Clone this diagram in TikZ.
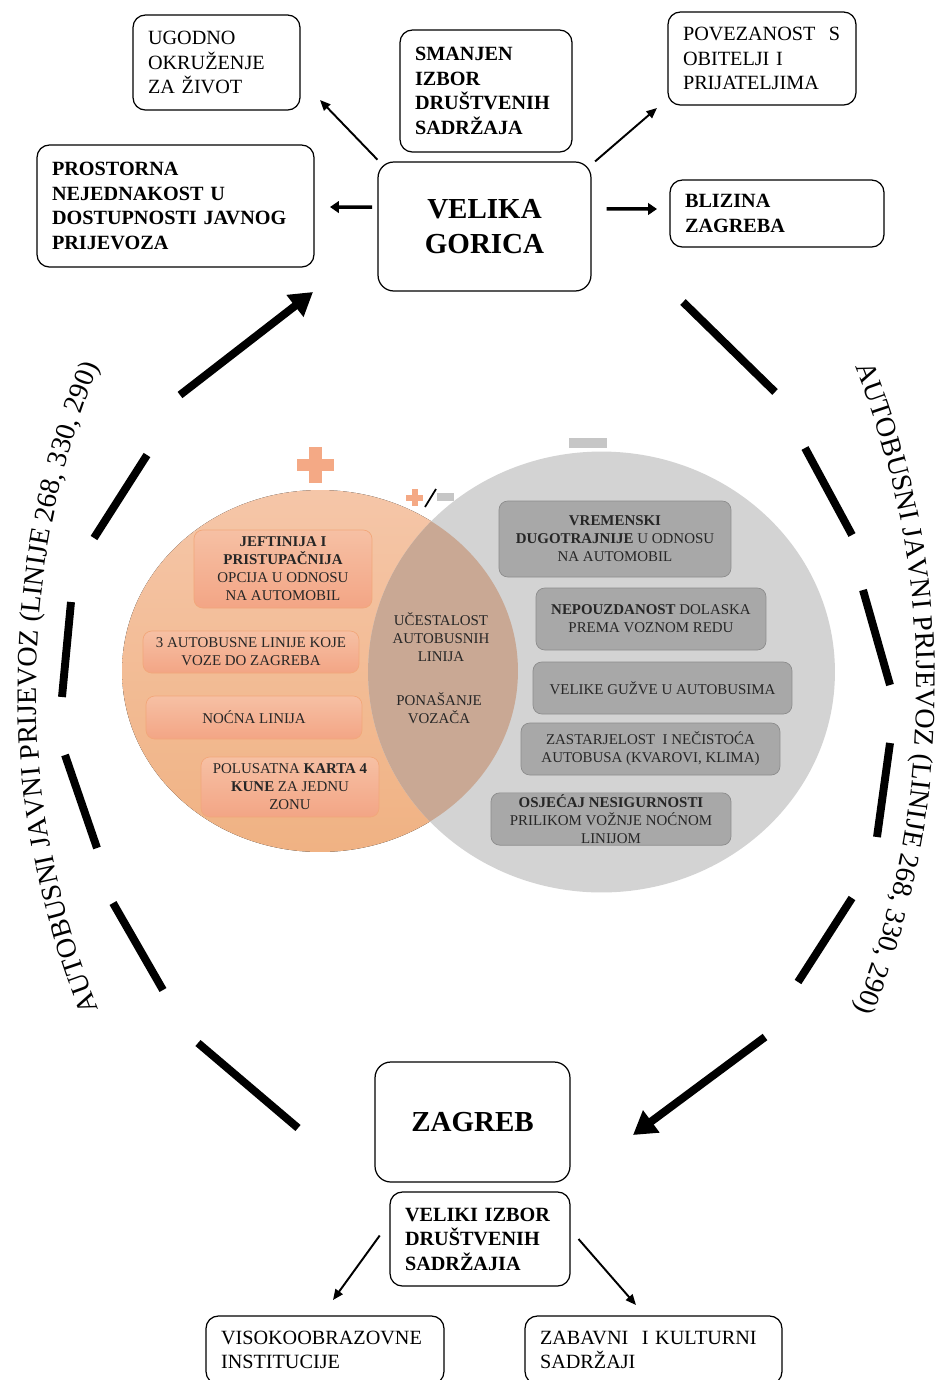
\documentclass[tikz,border=0pt]{standalone}
\usepackage{fontspec}
\setmainfont{Liberation Serif}
\usepackage{tikz}
\usetikzlibrary{arrows.meta,decorations.text}

\definecolor{orangetop}{HTML}{F5C6A8}
\definecolor{orangebot}{HTML}{F0B283}
\definecolor{overlapfill}{HTML}{C9A894}
\definecolor{grayfill}{HTML}{D3D3D3}
\definecolor{boxtop}{HTML}{F6C0A4}
\definecolor{boxbot}{HTML}{F3A585}
\definecolor{orangeedge}{HTML}{F2A77A}
\definecolor{grayboxfill}{HTML}{A8A8A8}
\definecolor{grayedge}{HTML}{8C8C8C}
\definecolor{plusorange}{HTML}{F4A985}
\definecolor{minusgray}{HTML}{C6C6C6}
\definecolor{textdark}{HTML}{262626}

\begin{document}
\begin{tikzpicture}[
    x=0.02cm, y=-0.02cm,
    topbox/.style={
        draw,
        line width=0.7pt,
        rounded corners=7pt,
        align=left,
        inner xsep=0.3cm,
        font=\fontsize{11.5}{14}\selectfont
    },
    bigbox/.style={
        draw,
        line width=0.7pt,
        rounded corners=9pt,
        align=center,
        font=\fontsize{16.5}{20.4}\selectfont\bfseries
    },
    plusbox/.style={
        draw=orangeedge,
        top color=boxtop,
        bottom color=boxbot,
        rounded corners=5pt,
        align=center,
        inner sep=1pt,
        text=textdark,
        font=\fontsize{8.5}{10.2}\selectfont
    },
    minusbox/.style={
        draw=grayedge,
        fill=grayboxfill,
        rounded corners=5pt,
        align=center,
        inner sep=1pt,
        text=textdark,
        font=\fontsize{8.5}{10.2}\selectfont
    },
    thinarrow/.style={
        -{Triangle[length=6pt,width=5pt]},
        line width=1.1pt
    },
    midarrow/.style={
        -{Triangle[length=5pt,width=6.5pt]},
        line width=2pt
    },
    ringseg/.style={line width=4.5pt},
    ringarrow/.style={
        line width=4.5pt,
        -{Triangle[length=13pt,width=15pt]}
    }
]
\useasboundingbox (0,0) rectangle (945,1380);
\clip (0,0) rectangle (945,1380);

% Venn circles
\fill[top color=orangetop, bottom color=orangebot] (320,671) ellipse [x radius=3.96cm, y radius=3.62cm];
\fill[grayfill] (601.5,672) ellipse [x radius=4.67cm, y radius=4.41cm];
\begin{scope}
    \clip (320,671) ellipse [x radius=3.96cm, y radius=3.62cm];
    \fill[overlapfill] (601.5,672) ellipse [x radius=4.67cm, y radius=4.41cm];
\end{scope}

% plus / minus marks
\fill[plusorange] (297,458.75) rectangle (334,471.25);
\fill[plusorange] (309.25,447) rectangle (321.75,483);
\fill[plusorange] (406,494.5) rectangle (423,500.5);
\fill[plusorange] (411.5,489) rectangle (417.5,506);
\draw[line width=1pt] (425,507) -- (436,489);
\fill[minusgray] (437,493) rectangle (454,501);
\fill[minusgray] (569,438) rectangle (607,448);

% positive side
\node[plusbox, minimum width=3.56cm, minimum height=1.56cm] (jeftinija) at (283,569) {
    \textbf{JEFTINIJA I}\\
    \textbf{PRISTUPAČNIJA}\\
    OPCIJA U ODNOSU\\
    NA AUTOMOBIL};
\node[plusbox, minimum width=4.32cm, minimum height=0.84cm] (trilinije) at (251,652) {
    3 AUTOBUSNE LINIJE KOJE\\
    VOZE DO ZAGREBA};
\node[plusbox, minimum width=4.32cm, minimum height=0.86cm] (nocna) at (254,717.5) {NOĆNA LINIJA};
\node[plusbox, minimum width=3.56cm, minimum height=1.2cm] (karta) at (290,787) {
    POLUSATNA \textbf{KARTA 4}\\
    \textbf{KUNE} ZA JEDNU\\
    ZONU};

% both sides
\node[align=center, text=textdark, font=\fontsize{8.5}{10.2}\selectfont] (ucestalost) at (441,637) {
    UČESTALOST\\
    AUTOBUSNIH\\
    LINIJA};
\node[align=center, text=textdark, font=\fontsize{8.5}{10.2}\selectfont] (ponasanje) at (439,708) {
    PONAŠANJE\\
    VOZAČA};

% negative side
\node[minusbox, minimum width=4.64cm, minimum height=1.52cm] (vremenski) at (615,539) {
    \textbf{VREMENSKI}\\
    \textbf{DUGOTRAJNIJE} U ODNOSU\\
    NA AUTOMOBIL};
\node[minusbox, minimum width=4.6cm, minimum height=1.24cm] (nepouzdanost) at (651,619) {
    \textbf{NEPOUZDANOST} DOLASKA\\
    PREMA VOZNOM REDU};
\node[minusbox, minimum width=5.18cm, minimum height=1.04cm] (guzve) at (662.5,688) {VELIKE GUŽVE U AUTOBUSIMA};
\node[minusbox, minimum width=5.18cm, minimum height=1.04cm] (zastarjelost) at (650.5,749) {
    ZASTARJELOST \ I NEČISTOĆA\\
    AUTOBUSA (KVAROVI, KLIMA)};
\node[minusbox, minimum width=4.8cm, minimum height=1.04cm] (nesigurnost) at (611,819) {
    \textbf{OSJEĆAJ NESIGURNOSTI}\\
    PRILIKOM VOŽNJE NOĆNOM\\
    LINIJOM};

% Velika Gorica
\node[bigbox, minimum width=4.26cm, minimum height=2.58cm] (velika) at (484.5,226.5) {VELIKA\\GORICA};
\node[topbox, text width=2.74cm, minimum height=1.9cm] (ugodno) at (216.5,62.5) {
    UGODNO\\
    OKRUŽENJE\\
    ZA ŽIVOT};
\node[topbox, text width=2.84cm, minimum height=2.44cm] (smanjen) at (486,91) {\bfseries
    SMANJEN\\
    IZBOR\\
    DRUŠTVENIH\\
    SADRŽAJA};
\node[topbox, text width=3.16cm, minimum height=1.86cm] (povezanost) at (762,58.5) {
    POVEZANOST \ S\\
    OBITELJI I\\
    PRIJATELJIMA};
\node[topbox, text width=4.94cm, minimum height=2.44cm] (prostorna) at (175.5,206) {\bfseries
    PROSTORNA\\
    NEJEDNAKOST U\\
    DOSTUPNOSTI JAVNOG\\
    PRIJEVOZA};
\node[topbox, text width=3.68cm, minimum height=1.34cm] (blizina) at (777,213.5) {\bfseries
    BLIZINA\\
    ZAGREBA};

% Zagreb
\node[bigbox, minimum width=3.9cm, minimum height=2.4cm] (zagreb) at (472.5,1122) {ZAGREB};
\node[topbox, text width=3.0cm, minimum height=1.88cm] (izbor) at (480,1239) {\bfseries
    VELIKI IZBOR\\
    DRUŠTVENIH\\
    SADRŽAJIA};
\node[topbox, text width=4.16cm, minimum height=1.36cm] (visoko) at (325,1350) {
    VISOKOOBRAZOVNE\\
    INSTITUCIJE};
\node[topbox, text width=4.54cm, minimum height=1.36cm] (zabavni) at (653.5,1350) {
    ZABAVNI \ I KULTURNI\\
    SADRŽAJI};

% arrow ends
\coordinate (ugtip) at (320,100);
\coordinate (prtip) at (330,207);
\coordinate (potip) at (657,108);
\coordinate (bltip) at (657,209);
\coordinate (vitip) at (333,1300);
\coordinate (zatip) at (636,1305);

% Arrows
\draw[thinarrow] ([yshift=1pt]velika.north west) -- (ugtip);
\draw[midarrow] ([xshift=-3pt,yshift=11pt]velika.west) -- (prtip);
\draw[thinarrow] ([xshift=2pt]velika.north east) -- (potip);
\draw[midarrow] ([xshift=8.5pt,yshift=10pt]velika.east) -- (bltip);
\draw[thinarrow] ([xshift=-5.5pt,yshift=2pt]izbor.west) -- (vitip);
\draw[thinarrow] ([xshift=4.5pt]izbor.east) -- (zatip);

% bus ring
\foreach \xa/\ya/\xb/\yb in {298/1128/198/1043, 163/990/113/903, 97/848/65/755,
    62/697/71/602, 94/538/147/455, 683/302/775/392, 805/448/852/535,
    863/590/890/685, 890/743/877/837, 852/898/798/982}
    \draw[ringseg] (\xa,\ya) -- (\xb,\yb);
\draw[ringarrow] (180,395) -- (313,292);
\draw[ringarrow] (765,1037) -- (633,1135);

% ring labels
\coordinate (lcen) at (895,688);
\coordinate (rcen) at (46,688);
\path[decorate, decoration={text along path, text align=center,
    text={|\fontsize{16}{19}\selectfont|AUTOBUSNI JAVNI PRIJEVOZ (LINIJE 268, 330, 290)}}]
    ([shift={(204:17.18cm)}]lcen) arc[start angle=204, end angle=156, radius=17.18cm];
\path[decorate, decoration={text along path, text align=center,
    text={|\fontsize{16}{19}\selectfont|AUTOBUSNI JAVNI PRIJEVOZ (LINIJE 268, 330, 290)}}]
    ([shift={(24:17.42cm)}]rcen) arc[start angle=24, end angle=-24, radius=17.42cm];

\end{tikzpicture}
\end{document}
